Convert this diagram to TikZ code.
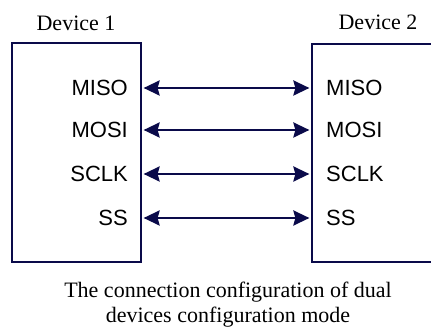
\documentclass[tikz,border=0pt]{standalone}
\usepackage{fontspec}
\setmainfont{Liberation Serif}
\setsansfont{Liberation Sans}
\usetikzlibrary{arrows.meta}
\definecolor{navy}{HTML}{0A0A4A}
\begin{document}
\begin{tikzpicture}[x=1pt,y=1pt,
  devbox/.style={draw=navy,line width=2.6pt,rectangle,inner sep=0pt},
  pin/.style={inner sep=0pt,font=\sffamily\fontsize{22}{26}\selectfont},
  title/.style={inner sep=0pt,anchor=base,font=\fontsize{22}{26}\selectfont},
  link/.style={navy,line width=2.6pt,{Stealth[length=16pt,width=15pt,inset=2pt]}-{Stealth[length=16pt,width=15pt,inset=2pt]}}]
\useasboundingbox (0,0) rectangle (431,331);
\clip (0,0) rectangle (431,331);
\node[devbox,minimum width=129pt,minimum height=219pt] (b1) at (76.5,178.5) {};
\node[devbox,minimum width=138pt,minimum height=218pt] (b2) at (381,178) {};
\node[title] (t1) at (76,300) {Device 1};
\node[title] (t2) at (378,301) {Device 2};
\node[pin,anchor=east] (l1) at (128,243) {MISO};
\node[pin,anchor=east] (l2) at (128,201) {MOSI};
\node[pin,anchor=east] (l3) at (128,157) {SCLK};
\node[pin,anchor=east] (l4) at (128,113) {SS};
\node[pin,anchor=west] (r1) at (326,243) {MISO};
\node[pin,anchor=west] (r2) at (326,201) {MOSI};
\node[pin,anchor=west] (r3) at (326,157) {SCLK};
\node[pin,anchor=west] (r4) at (326,113) {SS};
\foreach \i in {1,2,3,4}{
  \draw[link] ([xshift=1.3pt]b1.east |- l\i) -- ([xshift=-1.3pt]b2.west |- r\i);
}
\node[title] (c1) at (228,33) {The connection configuration of dual};
\node[title] (c2) at (228,8) {devices configuration mode};
\end{tikzpicture}
\end{document}
